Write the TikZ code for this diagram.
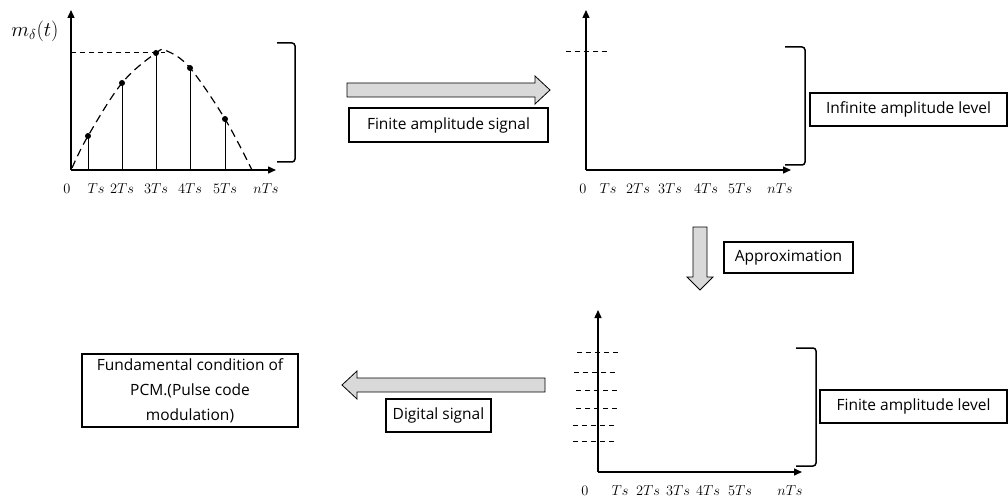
\documentclass[tikz,border=0pt]{standalone}
\usepackage{fontspec}
\newfontfamily\labelfont{Open Sans}
\usetikzlibrary{arrows.meta}
\begin{document}
\begin{tikzpicture}[x=1pt,y=-1pt,
  axis/.style={line width=1.4pt,-{Triangle[length=8pt,width=7pt]}},
  bracketline/.style={line width=1.5pt,rounded corners=3pt},
  levelline/.style={line width=0.8pt,dash pattern=on 5pt off 4pt},
  stem/.style={line width=1pt},
  sample/.style={circle,fill=black,inner sep=0pt,minimum size=6pt},
  blockarrow/.style={draw=black,line width=0.8pt,fill=gray!30,line join=miter},
  textbox/.style={draw,line width=1.3pt,inner sep=0pt,align=center,
    font=\labelfont\fontsize{15.5}{25}\selectfont},
  tick/.style={font=\fontsize{15.5}{17}\selectfont,inner sep=0pt}
]
\useasboundingbox (0,0) rectangle (1008,497);

% ---------- sampled signal ----------
\coordinate (o1) at (71,170);
\draw[axis] (o1) -- (71,10);
\draw[axis] (o1) -- (276,170);
\node[font=\fontsize{22}{24}\selectfont] (mlabel) at (35,31) {$m_\delta(t)$};
\draw[levelline] (71,52) -- (165,52);
\draw[line width=1.2pt,dash pattern=on 8pt off 5pt]
  plot[smooth,tension=0.6] coordinates {(72,168) (88,136) (122,83) (156,53) (167,51) (190,68) (225,119) (252,170)};
\foreach \n/\x/\y in {1/88/136,2/122/83,3/156/53,4/190/68,5/225/119}{
  \node[sample] (s\n) at (\x,\y) {};
  \draw[stem] (\x,170) -- (s\n.center);
}
\draw[bracketline] (277,43) -- (295,43) -- (295,162) -- (277,162);
\foreach \n/\x/\t in {0/67/0,1/96/Ts,2/122/2Ts,3/156/3Ts,4/190/4Ts,5/225/5Ts,n/266/nTs}{
  \node[tick] (a\n) at (\x,189) {$\t$};
}

% ---------- arrow: finite amplitude signal ----------
\draw[blockarrow] (347,83) -- (535,83) -- (535,76) -- (550,90) -- (535,104) -- (535,97) -- (347,97) -- cycle;
\node[textbox,minimum width=199pt,minimum height=34pt] (fas) at (448.5,125) {Finite amplitude signal};

% ---------- infinite amplitude level ----------
\coordinate (o2) at (586,170);
\draw[axis] (o2) -- (586,10);
\draw[axis] (o2) -- (791,170);
\draw[levelline] (566,51) -- (608,51);
\draw[bracketline] (785,47) -- (805,47) -- (805,165) -- (785,165);
\node[textbox,minimum width=197pt,minimum height=33pt] (inf) at (908.5,109.5) {Infinite amplitude level};
\foreach \n/\x/\t in {0/583/0,1/608/Ts,2/638/2Ts,3/670/3Ts,4/706/4Ts,5/740/5Ts,n/780/nTs}{
  \node[tick] (b\n) at (\x,189) {$\t$};
}

% ---------- arrow: approximation ----------
\draw[blockarrow] (693,227) -- (707,227) -- (707,277) -- (713,277) -- (700,290) -- (687,277) -- (693,277) -- cycle;
\node[textbox,minimum width=129pt,minimum height=31pt] (approx) at (788.5,257.5) {Approximation};

% ---------- finite amplitude level ----------
\coordinate (o3) at (598,472);
\draw[axis] (o3) -- (598,310);
\draw[axis] (o3) -- (802,472);
\foreach \y/\a/\b in {352/577/619,372/574/616,390/576/618,408/576/617,425/573/615,441/573/615}{
  \draw[levelline] (\a,\y) -- (\b,\y);
}
\draw[bracketline] (796,348) -- (816,348) -- (816,466) -- (796,466);
\node[textbox,minimum width=187pt,minimum height=33pt] (finlev) at (913.5,406.5) {Finite amplitude level};
\foreach \n/\x/\t in {0/585/0,1/620/Ts,2/648/2Ts,3/678/3Ts,4/708/4Ts,5/740/5Ts,n/790/nTs}{
  \node[tick] (c\n) at (\x,491) {$\t$};
}

% ---------- arrow: digital signal ----------
\draw[blockarrow] (545,378) -- (357,378) -- (357,371) -- (342,385) -- (357,399) -- (357,392) -- (545,392) -- cycle;
\node[textbox,minimum width=105pt,minimum height=33pt] (dig) at (438.5,415.5) {Digital signal};

% ---------- PCM ----------
\node[textbox,minimum width=216pt,minimum height=73pt] (pcm) at (190,390.5)
  {Fundamental condition of\\PCM.(Pulse code\\modulation)};
\end{tikzpicture}
\end{document}
